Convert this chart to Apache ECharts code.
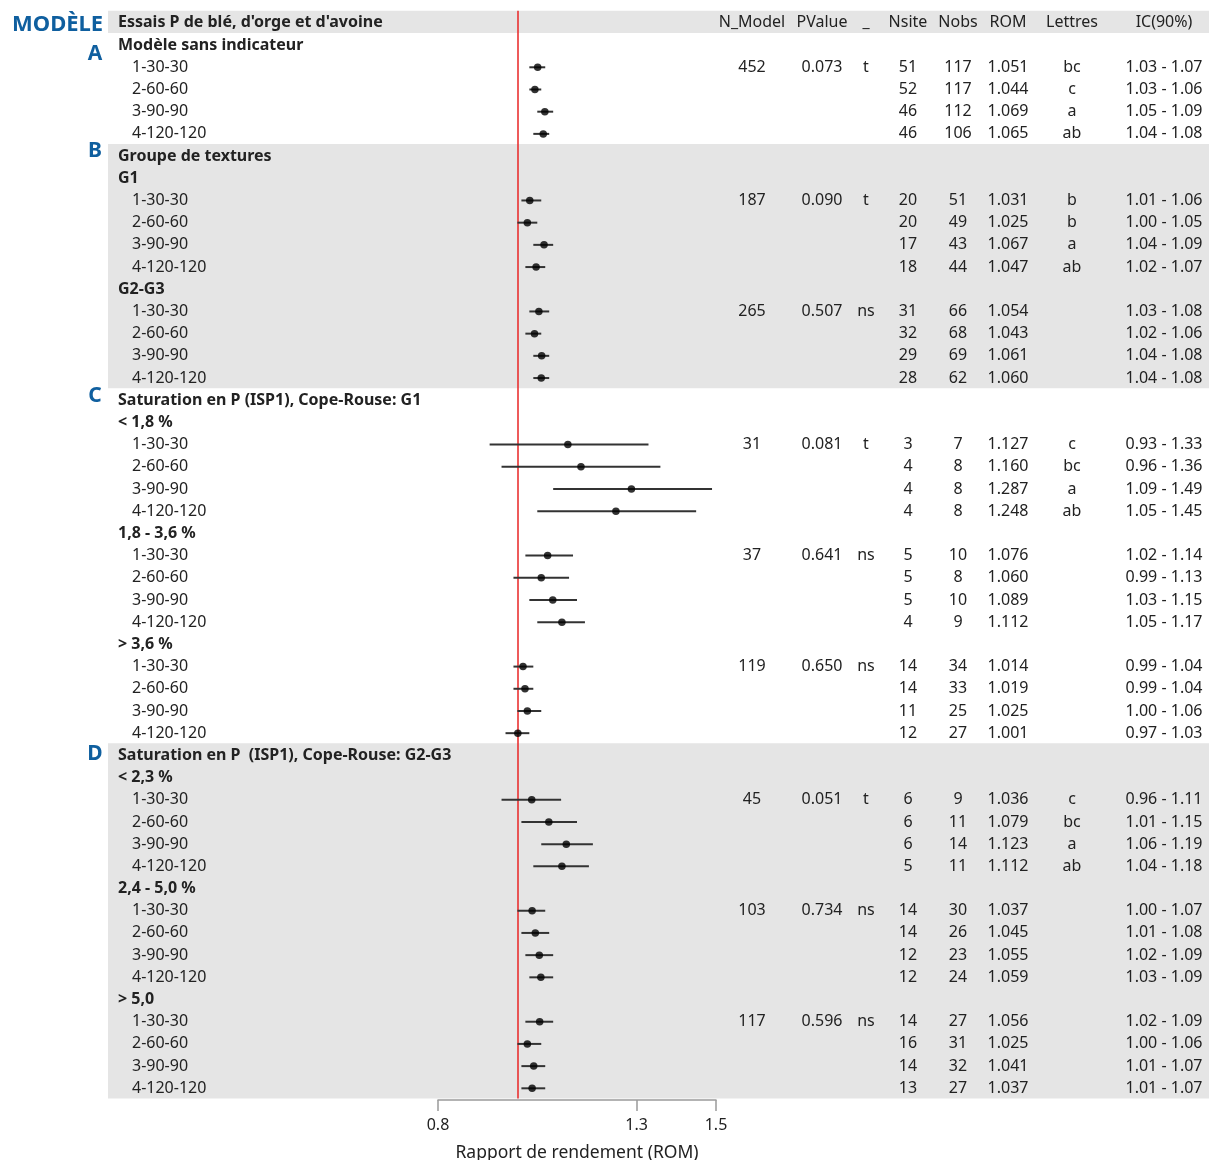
<!DOCTYPE html>
<html>
<head>
<meta charset="utf-8">
<script src="https://cdn.jsdelivr.net/npm/echarts@6/dist/echarts.min.js"></script>
<style>
  html, body { margin: 0; padding: 0; background: #ffffff; }
  #chart { width: 1209px; height: 1160px; }
</style>
</head>
<body>
<div id="chart"></div>
<script>
// ---- Table rows (top to bottom) ----
const rowLabels = [
  "Essais P de blé, d'orge et d'avoine",
  "Modèle sans indicateur", "1-30-30", "2-60-60", "3-90-90", "4-120-120",
  "Groupe de textures",
  "G1", "1-30-30", "2-60-60", "3-90-90", "4-120-120",
  "G2-G3", "1-30-30", "2-60-60", "3-90-90", "4-120-120",
  "Saturation en P (ISP1), Cope-Rouse: G1",
  "< 1,8 %", "1-30-30", "2-60-60", "3-90-90", "4-120-120",
  "1,8 - 3,6 %", "1-30-30", "2-60-60", "3-90-90", "4-120-120",
  "> 3,6 %", "1-30-30", "2-60-60", "3-90-90", "4-120-120",
  "Saturation en P  (ISP1), Cope-Rouse: G2-G3",
  "< 2,3 %", "1-30-30", "2-60-60", "3-90-90", "4-120-120",
  "2,4 - 5,0 %", "1-30-30", "2-60-60", "3-90-90", "4-120-120",
  "> 5,0", "1-30-30", "2-60-60", "3-90-90", "4-120-120"
];
// H = header, S = section title, G = sub-group, I = treatment row
const rowKinds = "HSIIIISGIIIIGIIIISGIIIIGIIIIGIIIISGIIIIGIIIIGIIII".split("");

// ---- Column headers ----
const columnHeaders = ["N_Model", "PValue", "_", "Nsite", "Nobs", "ROM", "Lettres", "IC(90%)"];

// ---- Per-group statistics (one entry per block of treatments) ----
const nModel = [452, 187, 265, 31, 37, 119, 45, 103, 117];
const pValue = [0.073, 0.090, 0.507, 0.081, 0.641, 0.650, 0.051, 0.734, 0.596];
const signif = ["t", "t", "ns", "t", "ns", "ns", "t", "ns", "ns"];

// ---- Per-treatment values (in row order) ----
const nSite = [51, 52, 46, 46, 20, 20, 17, 18, 31, 32, 29, 28, 3, 4, 4, 4, 5, 5, 5, 4,
               14, 14, 11, 12, 6, 6, 6, 5, 14, 14, 12, 12, 14, 16, 14, 13];
const nObs = [117, 117, 112, 106, 51, 49, 43, 44, 66, 68, 69, 62, 7, 8, 8, 8, 10, 8, 10, 9,
              34, 33, 25, 27, 9, 11, 14, 11, 30, 26, 23, 24, 27, 31, 32, 27];
const romValues = [1.051, 1.044, 1.069, 1.065, 1.031, 1.025, 1.067, 1.047,
                   1.054, 1.043, 1.061, 1.060, 1.127, 1.160, 1.287, 1.248,
                   1.076, 1.060, 1.089, 1.112, 1.014, 1.019, 1.025, 1.001,
                   1.036, 1.079, 1.123, 1.112, 1.037, 1.045, 1.055, 1.059,
                   1.056, 1.025, 1.041, 1.037];
const ciLow = [1.03, 1.03, 1.05, 1.04, 1.01, 1.00, 1.04, 1.02, 1.03, 1.02, 1.04, 1.04,
               0.93, 0.96, 1.09, 1.05, 1.02, 0.99, 1.03, 1.05, 0.99, 0.99, 1.00, 0.97,
               0.96, 1.01, 1.06, 1.04, 1.00, 1.01, 1.02, 1.03, 1.02, 1.00, 1.01, 1.01];
const ciHigh = [1.07, 1.06, 1.09, 1.08, 1.06, 1.05, 1.09, 1.07, 1.08, 1.06, 1.08, 1.08,
                1.33, 1.36, 1.49, 1.45, 1.14, 1.13, 1.15, 1.17, 1.04, 1.04, 1.06, 1.03,
                1.11, 1.15, 1.19, 1.18, 1.07, 1.08, 1.09, 1.09, 1.09, 1.06, 1.07, 1.07];
const lettres = ["bc", "c", "a", "ab", "b", "b", "a", "ab", "", "", "", "",
                 "c", "bc", "a", "ab", "", "", "", "", "", "", "", "",
                 "c", "bc", "a", "ab", "", "", "", "", "", "", "", ""];

// ---- Axis ticks, reference line, shaded blocks, section letters ----
const xTicks = [0.8, 1.3, 1.5];
const referenceRom = 1.0;
const shadedRows = [[0, 0], [6, 16], [33, 48]];
const sectionLetters = [["A", 1.45], ["B", 5.8], ["C", 16.85], ["D", 33]];

// ---- Layout ----
const FONT = '"Noto Sans", "DejaVu Sans", sans-serif';
const TEXT_COLOR = "#222222";
const BLUE = "#0f5f9f";
const COL_X = [752, 822, 866, 908, 958, 1008, 1072, 1164];
const LABEL_X = 118, ITEM_X = 132;
const GRID_TOP = 10.8, ROW_H = 22.196, N_ROWS = rowLabels.length;
const TEXT_DY = 1;

// map each row to its treatment index / group index
const itemIndex = [], groupIndex = [], groupFirst = [];
{
  let it = -1, gr = -1;
  rowKinds.forEach((k, r) => {
    if (k === "I") {
      it++;
      const first = r === 0 || rowKinds[r - 1] !== "I";
      if (first) gr++;
      itemIndex[r] = it; groupIndex[r] = gr; groupFirst[r] = first;
    } else {
      itemIndex[r] = -1; groupIndex[r] = -1; groupFirst[r] = false;
    }
  });
}
const itemRows = rowKinds.map((k, r) => k === "I" ? r : -1).filter(r => r >= 0);

function txt(text, x, y, align, weight, size, color) {
  return {
    type: "text",
    style: {
      text: text, x: x, y: y,
      align: align, verticalAlign: "middle",
      font: (weight || "normal") + " " + (size || 16) + "px " + FONT,
      fill: color || TEXT_COLOR
    }
  };
}

const chart = echarts.init(document.getElementById("chart"), null, { renderer: "canvas" });

const yAxisCommon = {
  type: "value", min: -0.5, max: N_ROWS - 0.5, inverse: true, show: false
};

const option = {
  animation: false,
  backgroundColor: "#ffffff",
  graphic: [
    txt("MODÈLE", 12, 25, "left", "bold", 22, BLUE)
  ],
  grid: [
    { left: 108, right: 0, top: GRID_TOP, height: ROW_H * N_ROWS, outerBoundsContain: "axisLabel" },
    { left: 438, width: 278, top: GRID_TOP, height: ROW_H * N_ROWS, outerBoundsContain: "axisLabel" }
  ],
  xAxis: [
    { gridIndex: 0, type: "value", min: 0, max: 1, show: false },
    {
      gridIndex: 1, type: "value", min: 0.8, max: 1.5, position: "bottom", z: 20,
      offset: 1.5,
      name: "Rapport de rendement (ROM)", nameLocation: "middle", nameGap: 44,
      nameTextStyle: { fontFamily: FONT, fontSize: 17.5, color: TEXT_COLOR },
      axisLine: { show: true, onZero: false, lineStyle: { color: "#9a9a9a", width: 1.5 } },
      axisTick: { show: true, inside: false, customValues: xTicks, length: 11,
                  lineStyle: { color: "#9a9a9a", width: 1.5 } },
      axisLabel: {
        show: true, customValues: xTicks, margin: 18,
        fontFamily: FONT, fontSize: 16, color: TEXT_COLOR,
        formatter: v => String(v)
      },
      splitLine: { show: false }
    }
  ],
  yAxis: [
    Object.assign({ gridIndex: 0 }, yAxisCommon),
    Object.assign({ gridIndex: 1 }, yAxisCommon)
  ],
  series: [
    // shaded blocks of rows
    {
      type: "custom", xAxisIndex: 0, yAxisIndex: 0, z: 0, silent: true,
      data: shadedRows.map(b => [0, b[0], b[1]]),
      encode: { x: 0, y: [1, 2] },
      renderItem: (params, api) => {
        const cs = params.coordSys;
        const y0 = api.coord([0, api.value(1) - 0.5])[1];
        const y1 = api.coord([0, api.value(2) + 0.5])[1];
        return {
          type: "rect",
          shape: { x: cs.x, y: y0, width: cs.width, height: y1 - y0 },
          style: { fill: "#e5e5e5" }
        };
      }
    },
    // table text
    {
      type: "custom", xAxisIndex: 0, yAxisIndex: 0, z: 5, silent: true, clip: false,
      data: rowLabels.map((_, r) => [0, r]),
      encode: { x: 0, y: 1 },
      renderItem: (params, api) => {
        const r = params.dataIndex;
        const y = api.coord([0, r])[1] + TEXT_DY;
        const kind = rowKinds[r];
        const children = [];
        if (kind === "I") {
          children.push(txt(rowLabels[r], ITEM_X, y, "left", "normal"));
          const it = itemIndex[r], g = groupIndex[r];
          const vals = [
            groupFirst[r] ? String(nModel[g]) : "",
            groupFirst[r] ? pValue[g].toFixed(3) : "",
            groupFirst[r] ? signif[g] : "",
            String(nSite[it]),
            String(nObs[it]),
            romValues[it].toFixed(3),
            lettres[it],
            ciLow[it].toFixed(2) + " - " + ciHigh[it].toFixed(2)
          ];
          vals.forEach((v, c) => { if (v) children.push(txt(v, COL_X[c], y, "center", "normal")); });
        } else {
          children.push(txt(rowLabels[r], LABEL_X, y, "left", "bold"));
          if (kind === "H") {
            columnHeaders.forEach((h, c) => children.push(txt(h, COL_X[c], y, "center", "normal")));
          }
        }
        return { type: "group", children: children };
      }
    },
    // section letters in the left margin
    {
      type: "custom", xAxisIndex: 0, yAxisIndex: 0, z: 5, silent: true, clip: false,
      data: sectionLetters.map(s => [0, s[1]]),
      encode: { x: 0, y: 1 },
      renderItem: (params, api) => {
        const y = api.coord([0, api.value(1)])[1];
        return txt(sectionLetters[params.dataIndex][0], 95, y, "center", "bold", 21, BLUE);
      }
    },
    // confidence intervals
    {
      type: "custom", xAxisIndex: 1, yAxisIndex: 1, z: 4, silent: true,
      data: itemRows.map((r, i) => [ciLow[i], ciHigh[i], r]),
      encode: { x: [0, 1], y: 2 },
      renderItem: (params, api) => {
        const p0 = api.coord([api.value(0), api.value(2)]);
        const p1 = api.coord([api.value(1), api.value(2)]);
        return {
          type: "line",
          shape: { x1: p0[0], y1: p0[1] + TEXT_DY, x2: p1[0], y2: p1[1] + TEXT_DY },
          style: { stroke: "#333333", lineWidth: 2 }
        };
      }
    },
    // point estimates
    {
      type: "scatter", xAxisIndex: 1, yAxisIndex: 1, z: 6, silent: true,
      symbol: "circle", symbolSize: 7.5, symbolOffset: [0, TEXT_DY],
      itemStyle: { color: "#000000" },
      data: itemRows.map((r, i) => [romValues[i], r]),
      markLine: {
        silent: true, symbol: ["none", "none"], z: 3,
        label: { show: false },
        lineStyle: { color: "#e82424", width: 1.5, type: "solid" },
        data: [{ xAxis: referenceRom }]
      }
    }
  ]
};

chart.setOption(option);
</script>
</body>
</html>
